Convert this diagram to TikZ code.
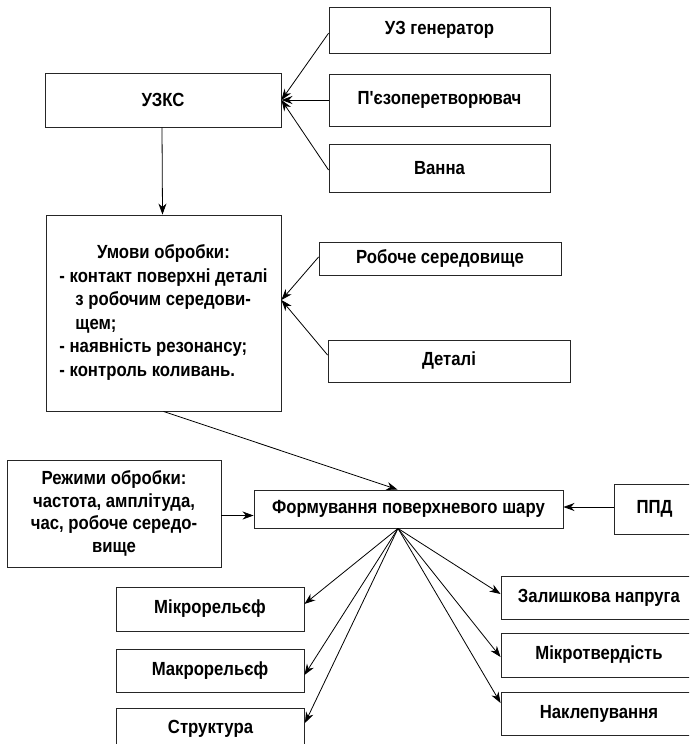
\documentclass[tikz,border=0pt]{standalone}
\usepackage{fontspec}
\setmainfont[FakeStretch=0.88,Ligatures=TeXOff]{Liberation Sans}
\usetikzlibrary{arrows.meta,calc}
\begin{document}
\begin{tikzpicture}[x=1pt,y=-1pt,
  box/.style={draw=black!85, line width=0.9pt, rectangle, inner sep=0pt, align=center,
    font=\fontsize{19}{23.5}\selectfont\bfseries},
  arr/.style={draw=black, line width=0.8pt, -{Stealth[length=11pt,width=8pt,inset=3.5pt]}}]
\useasboundingbox (0,0) rectangle (689,744);
\clip (0,0) rectangle (689,744);
% top group
\node[box, minimum width=221pt, minimum height=45.5pt] (uzg) at (439.5,30.2) {УЗ генератор};
\node[box, minimum width=221pt, minimum height=52pt] (piezo) at (439.5,100) {П'єзоперетворювач};
\node[box, minimum width=221pt, minimum height=48pt] (vanna) at (439.5,168) {Ванна};
\node[box, minimum width=236pt, minimum height=54pt] (uzks) at (163,100) {УЗКС};
% conditions
\node[box, minimum width=235pt, minimum height=196pt] (umovy) at (163.5,313)
  {\begin{tabular}{@{}l@{}}
   \multicolumn{1}{@{}c@{}}{Умови обробки:}\\
   - контакт поверхні деталі\\
   \hspace*{16pt}з робочим середови-\\
   \hspace*{16pt}щем;\\
   - наявність резонансу;\\
   - контроль коливань.
   \end{tabular}};
\node[box, minimum width=242pt, minimum height=33pt] (robo) at (440,258.5) {Робоче середовище};
\node[box, minimum width=242pt, minimum height=42pt] (detali) at (449,361) {Деталі};
% formation
\node[box, minimum width=214pt, minimum height=107pt, font=\fontsize{19}{22.8}\selectfont\bfseries] (rezh) at (114,513.5)
  {Режими обробки:\\частота, амплітуда,\\час, робоче середо-\\вище};
\node[box, minimum width=309pt, minimum height=38pt] (form) at (408.5,509) {Формування поверхневого шару};
\node[box, minimum width=81pt, minimum height=50pt] (ppd) at (654.5,509) {ППД};
% results
\node[box, minimum width=188pt, minimum height=44pt] (mikro) at (210,609) {Мікрорельєф};
\node[box, minimum width=188pt, minimum height=43pt] (makro) at (210,670.5) {Макрорельєф};
\node[box, minimum width=188pt, minimum height=41pt] (struct) at (210.5,728.5) {Структура};
\node[box, minimum width=196pt, minimum height=43pt] (zal) at (599,597.5) {Залишкова напруга};
\node[box, minimum width=196pt, minimum height=44pt] (mtv) at (599,655) {Мікротвердість};
\node[box, minimum width=196pt, minimum height=43pt] (nakl) at (599,713.5) {Наклепування};
% connectors
\draw[arr] ([yshift=-3pt]uzg.west) -- (uzks.east);
\draw[arr] (piezo.west) -- (uzks.east);
\draw[arr] ([yshift=-2pt]vanna.west) -- (uzks.east);
\draw[arr] ([xshift=-1pt]uzks.south) -- ([xshift=-1pt]umovy.north);
\draw[arr] ([yshift=1.5pt]robo.west) -- ([yshift=13pt]umovy.east);
\draw[arr] ([yshift=6pt]detali.west) -- ([yshift=13pt]umovy.east);
\draw[arr] (umovy.south) -- ([xshift=-11pt]form.north);
\draw[arr] ([yshift=-2pt]rezh.east) -- ([yshift=-2pt]rezh.east -| form.west);
\draw[arr] ([yshift=2pt]ppd.west) -- ([yshift=2pt]ppd.west -| form.east);
\coordinate (fan) at ([xshift=-10.5pt]form.south);
\draw[arr] (fan) -- ([yshift=5pt]mikro.east);
\draw[arr] (fan) -- ([yshift=-4.5pt]makro.east);
\draw[arr] (fan) -- ([yshift=5.5pt]struct.east);
\draw[arr] (fan) -- ([yshift=3.5pt]zal.west);
\draw[arr] (fan) -- ([yshift=-2pt]mtv.west);
\draw[arr] (fan) -- ([yshift=10.5pt]nakl.west);
\end{tikzpicture}
\end{document}
